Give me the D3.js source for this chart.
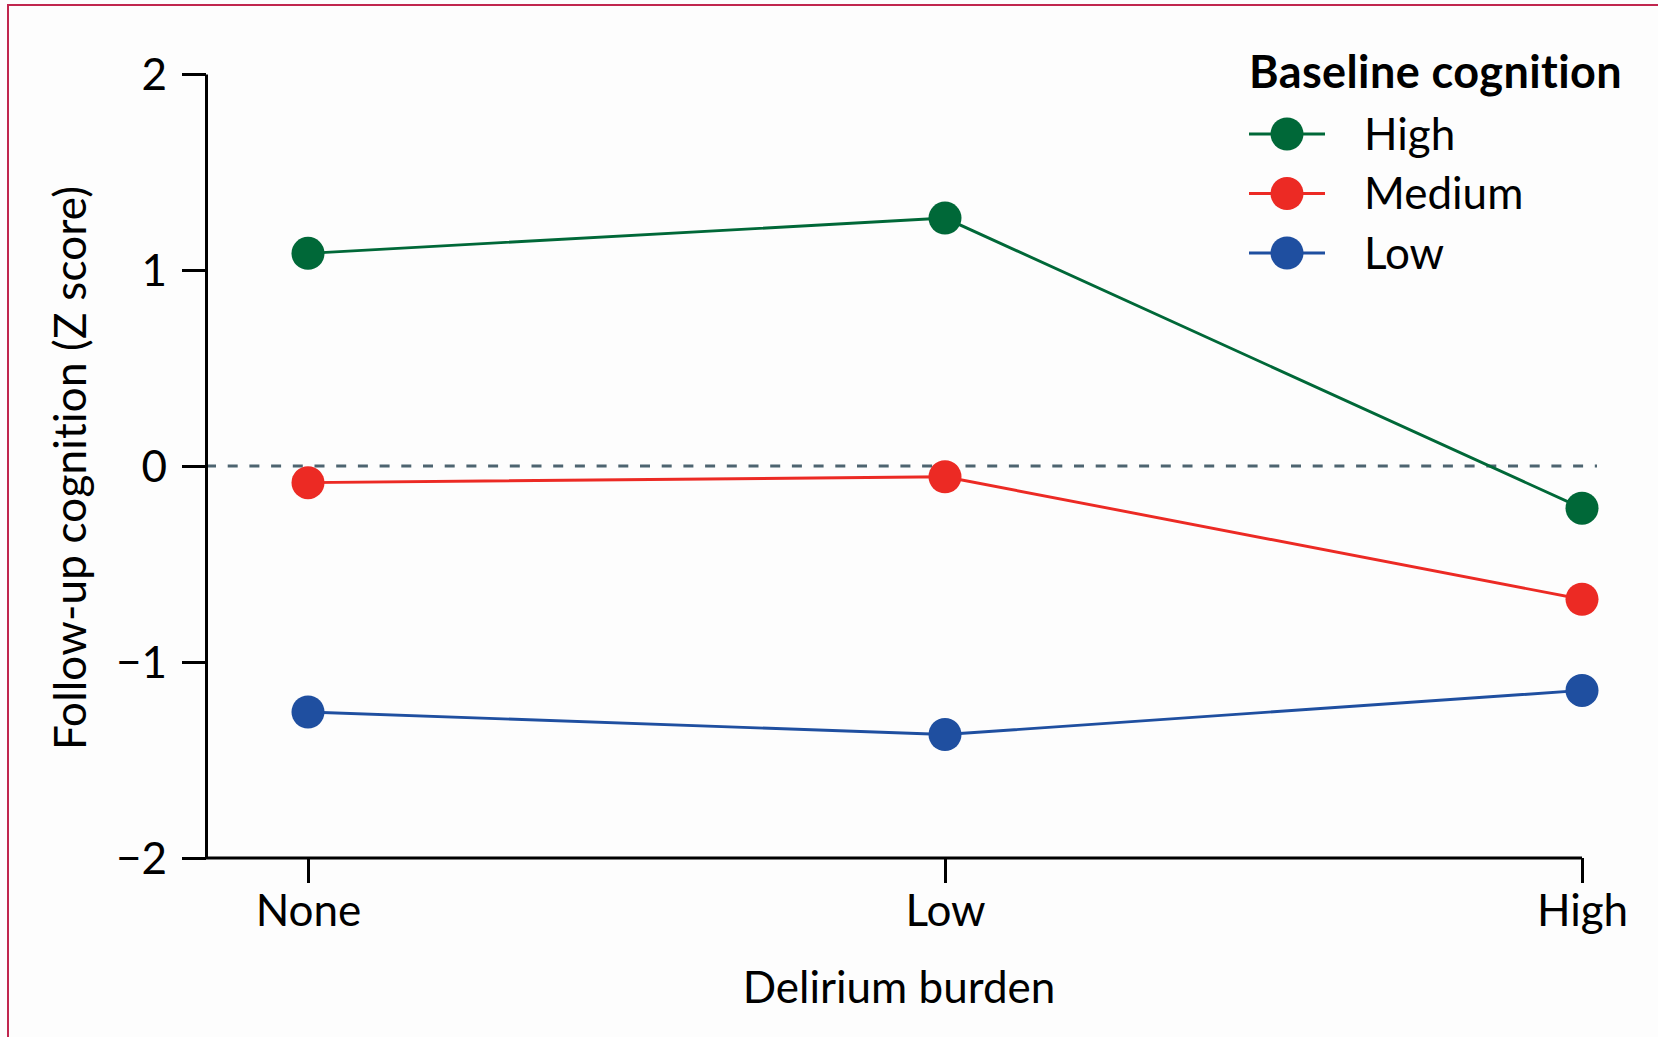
<!DOCTYPE html>
<html>
<head>
<meta charset="utf-8">
<script src="https://cdn.jsdelivr.net/npm/d3@7"></script>
<style>
  html, body { margin: 0; padding: 0; background: #fdfdfd; }
  svg { display: block; }
  text { font-family: Lato, "Open Sans", sans-serif; fill: #000; }
</style>
</head>
<body>
<svg id="chart" width="1658" height="1037"></svg>
<script>
// Delirium burden categories (x axis)
const categories = ["None", "Low", "High"];

// Follow-up cognition Z scores by baseline cognition group
const seriesNames = ["High", "Medium", "Low"];
const highValues = [1.085, 1.265, -0.215];
const mediumValues = [-0.085, -0.055, -0.68];
const lowValues = [-1.255, -1.37, -1.145];
const seriesColors = ["#006838", "#ec2a24", "#1f4fa0"];

// Y axis ticks
const yTicks = [-2, -1, 0, 1, 2];

const series = [
  { name: seriesNames[0], values: highValues, color: seriesColors[0] },
  { name: seriesNames[1], values: mediumValues, color: seriesColors[1] },
  { name: seriesNames[2], values: lowValues, color: seriesColors[2] }
];

const svg = d3.select("#chart");

// outer frame
svg.append("rect")
  .attr("x", 8).attr("y", 5)
  .attr("width", 1700).attr("height", 1100)
  .attr("fill", "none")
  .attr("stroke", "#c0264e")
  .attr("stroke-width", 2);

const axisX = 206;
const x = d3.scalePoint().domain(categories).range([308, 1582]);
const y = d3.scaleLinear().domain([-2, 2]).range([858, 74]);

const fontSize = 44;

// reference line at zero
svg.append("line")
  .attr("x1", axisX).attr("x2", 1597)
  .attr("y1", y(0)).attr("y2", y(0))
  .attr("stroke", "#4d6470")
  .attr("stroke-width", 3)
  .attr("stroke-dasharray", "10 11.7");

// y axis
const yAxis = svg.append("g")
  .attr("transform", `translate(${axisX},0)`)
  .call(d3.axisLeft(y).tickValues(yTicks).tickSize(24).tickSizeOuter(0).tickPadding(15)
    .tickFormat(d3.format("d")));
yAxis.selectAll("path, line").attr("stroke", "#000").attr("stroke-width", 3);
yAxis.selectAll("text")
  .attr("font-size", fontSize)
  .attr("font-family", "Lato, sans-serif")
  .attr("fill", "#000")
  .attr("dy", "0.36em");

// x axis
const xAxis = svg.append("g")
  .attr("transform", `translate(0,${y(-2)})`)
  .call(d3.axisBottom(x).tickSize(25).tickSizeOuter(0).tickPadding(12));
xAxis.select(".domain").attr("d", `M${axisX},0H${x.range()[1]}`);
xAxis.selectAll("path, line").attr("stroke", "#000").attr("stroke-width", 3);
xAxis.selectAll("text")
  .attr("font-size", fontSize)
  .attr("font-family", "Lato, sans-serif")
  .attr("fill", "#000");

// axis titles
svg.append("text")
  .attr("transform", `translate(86,${y(0) + 2}) rotate(-90)`)
  .attr("text-anchor", "middle")
  .attr("font-size", fontSize)
  .attr("letter-spacing", 0.2)
  .text("Follow-up cognition (Z score)");

svg.append("text")
  .attr("x", 899).attr("y", 1003)
  .attr("text-anchor", "middle")
  .attr("font-size", fontSize)
  .text("Delirium burden");

// series lines and points
const line = d3.line()
  .x((d, i) => x(categories[i]))
  .y(d => y(d));

const groups = svg.append("g").selectAll("g")
  .data(series).join("g");

groups.append("path")
  .attr("d", d => line(d.values))
  .attr("fill", "none")
  .attr("stroke", d => d.color)
  .attr("stroke-width", 2.9);

groups.selectAll("circle")
  .data(d => d.values.map((v, i) => ({ v, i, color: d.color })))
  .join("circle")
  .attr("cx", d => x(categories[d.i]))
  .attr("cy", d => y(d.v))
  .attr("r", 16.5)
  .attr("fill", d => d.color);

// legend
const legend = svg.append("g").attr("transform", "translate(1249,0)");
legend.append("text")
  .attr("x", 0).attr("y", 88)
  .attr("font-size", 45)
  .attr("font-weight", 700)
  .attr("letter-spacing", 0.4)
  .text("Baseline cognition");

const items = legend.selectAll("g.item")
  .data(series).join("g")
  .attr("class", "item")
  .attr("transform", (d, i) => `translate(0,${134 + i * 59.5})`);
items.append("line")
  .attr("x1", 0).attr("x2", 76)
  .attr("stroke", d => d.color)
  .attr("stroke-width", 3);
items.append("circle")
  .attr("cx", 38).attr("r", 16.5)
  .attr("fill", d => d.color);
items.append("text")
  .attr("x", 115).attr("dy", "0.36em")
  .attr("font-size", fontSize)
  .text(d => d.name);
</script>
</body>
</html>
